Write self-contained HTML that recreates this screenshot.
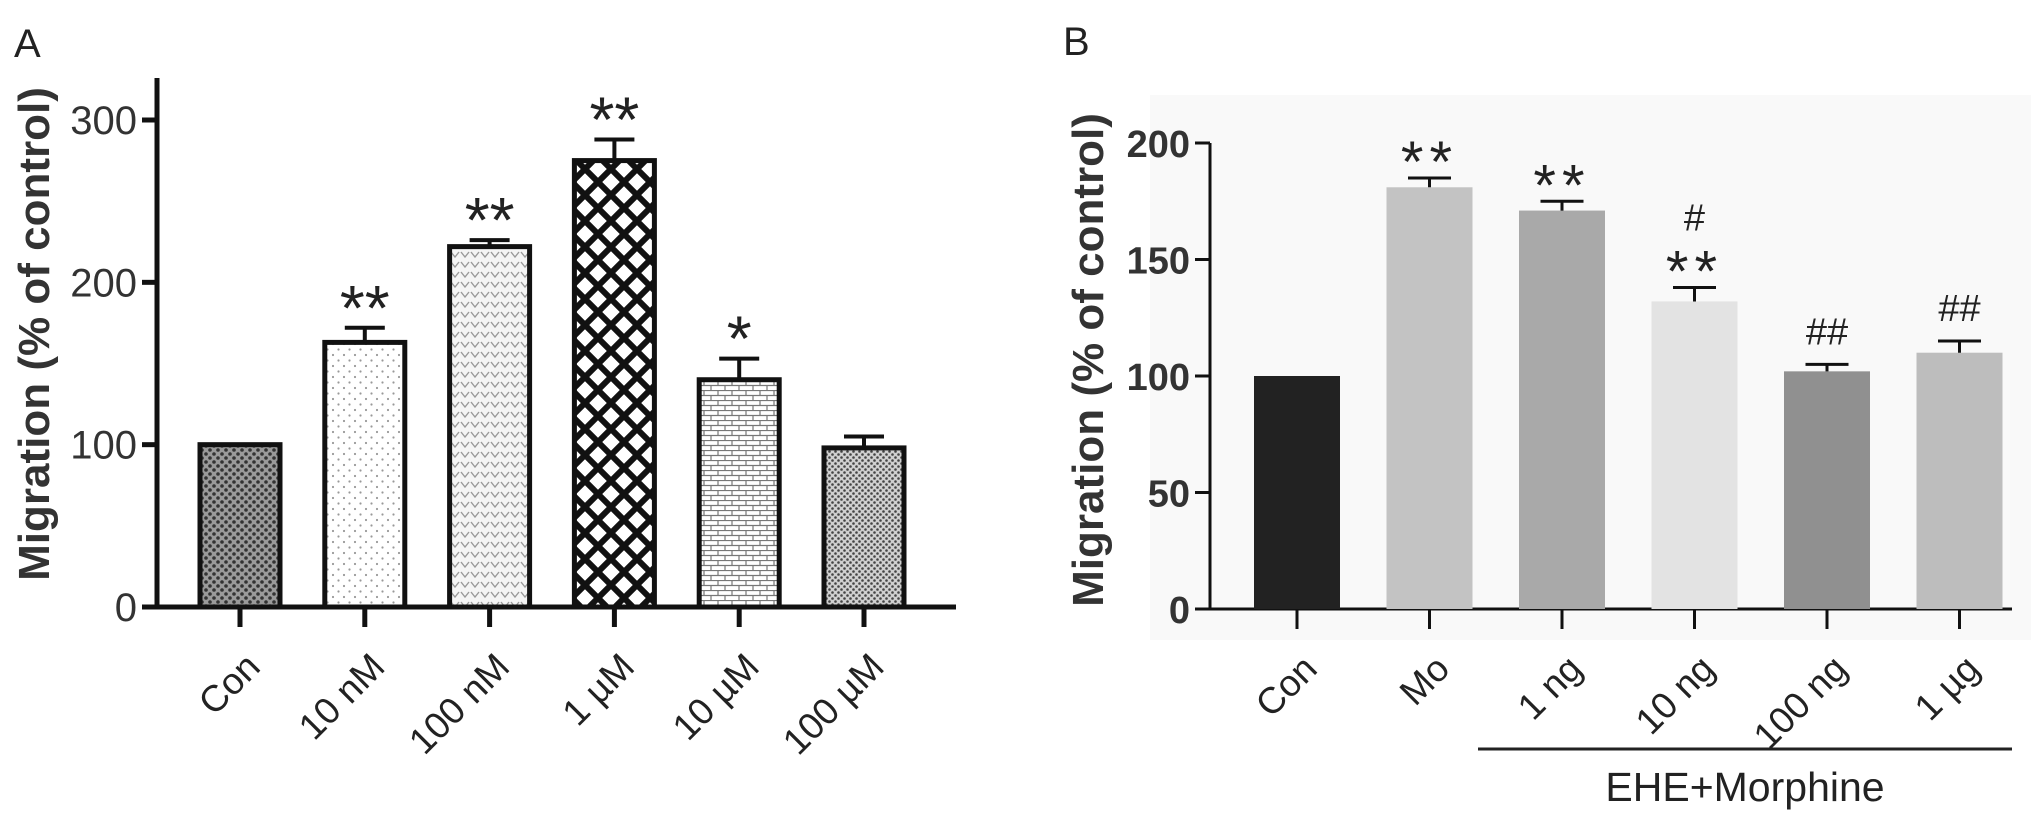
<!DOCTYPE html>
<html><head><meta charset="utf-8"><style>
html,body{margin:0;padding:0;background:#fff;}
svg{display:block;font-family:"Liberation Sans",Arial,sans-serif;}
</style></head><body>
<svg width="2031" height="820" viewBox="0 0 2031 820">
<defs>
<pattern id="pCon" width="8" height="8" patternUnits="userSpaceOnUse"><rect width="8" height="8" fill="#9a9a9a"/><circle cx="2" cy="2" r="1.8" fill="#333"/><circle cx="6" cy="6" r="1.8" fill="#333"/></pattern>
<pattern id="pDots" width="11" height="11" patternUnits="userSpaceOnUse"><rect width="11" height="11" fill="#fff"/><circle cx="3" cy="3" r="1.1" fill="#999"/><circle cx="8.5" cy="8.5" r="1.1" fill="#999"/></pattern>
<pattern id="pV" width="10" height="10" patternUnits="userSpaceOnUse"><rect width="10" height="10" fill="#f4f4f4"/><path d="M1,2 L5,7 L9,2" stroke="#999" stroke-width="1.4" fill="none"/></pattern>
<pattern id="pCross" width="26" height="26" patternUnits="userSpaceOnUse"><rect width="26" height="26" fill="#fff"/><path d="M0,0 L26,26 M26,0 L0,26" stroke="#111" stroke-width="6"/></pattern>
<pattern id="pBrick" width="14" height="10" patternUnits="userSpaceOnUse"><rect width="14" height="10" fill="#fff"/><path d="M0,0.5 H14 M0,5.5 H14 M4,0 V5 M11,5 V10" stroke="#777" stroke-width="1.2"/></pattern>
<pattern id="pFine" width="6" height="6" patternUnits="userSpaceOnUse"><rect width="6" height="6" fill="#d0d0d0"/><circle cx="1.5" cy="1.5" r="1.3" fill="#444"/><circle cx="4.5" cy="4.5" r="1.3" fill="#444"/></pattern>
</defs>
<rect x="1150" y="95" width="881" height="545" fill="#f9f9f9"/>
<text x="14" y="57" font-size="40" fill="#222">A</text>
<text x="1063" y="55" font-size="40" fill="#222">B</text>
<g id="chartA"></g>
<g id="chartB"></g>
<text transform="translate(49,334) rotate(-90)" text-anchor="middle" font-size="44" font-weight="bold" fill="#333">Migration (% of control)</text>
<text transform="translate(1103,360) rotate(-90)" text-anchor="middle" font-size="44" font-weight="bold" fill="#333">Migration (% of control)</text>
<line x1="1478" y1="749" x2="2012" y2="749" stroke="#222" stroke-width="3"/>
<text x="1745" y="801" text-anchor="middle" font-size="41" fill="#222">EHE+Morphine</text>
</svg>
<script>
const catsA = ["Con","10 nM","100 nM","1 \u00b5M","10  \u00b5M","100 \u00b5M"];
const valsA = [100,163,222,275,140,98];
const errA = [0,9,4,13,13,7];
const sigA = ["","**","**","**","*",""];
const ticksA = [0,100,200,300];
const catsB = ["Con","Mo","1 ng","10 ng","100 ng","1 \u00b5g"];
const valsB = [100,181,171,132,102,110];
const errB = [0,4,4,6,3,5];
const sigB = ["","**","**","**","##","##"];
const sigB2 = ["","","","#","",""];
const fillsA=["url(#pCon)","url(#pDots)","url(#pV)","url(#pCross)","url(#pBrick)","url(#pFine)"];
const fillsB=["#222","#c3c3c3","#a9a9a9","#e3e3e3","#909090","#bdbdbd"];
const ticksB=[0,50,100,150,200];
const NS="http://www.w3.org/2000/svg";
function mk(p,t,a){const e=document.createElementNS(NS,t);for(const k in a)e.setAttribute(k,a[k]);p.appendChild(e);return e;}
function draw(g,cfg){
  const y=v=>cfg.y0-(v-cfg.ymin)/(cfg.ymax-cfg.ymin)*(cfg.y0-cfg.y1);
  const x=i=>cfg.x0+i*cfg.step;
  const ax=mk(g,'line',{x1:cfg.ax,y1:cfg.top,x2:cfg.ax,y2:cfg.y0,stroke:'#111','stroke-width':cfg.aw});
  
  
  const xa=mk(g,'line',{x1:cfg.ax-12,y1:cfg.y0,x2:cfg.xend,y2:cfg.y0,stroke:'#111','stroke-width':cfg.aw});
  
  
  cfg.ticks.forEach(t=>{
    const l=mk(g,'line',{x1:cfg.ax-15,y1:y(t),x2:cfg.ax,y2:y(t),stroke:'#111','stroke-width':cfg.aw});
    
    
    const tx=mk(g,'text',{x:cfg.ax-20,y:y(t)+14,'text-anchor':'end','font-size':cfg.tf,fill:'#333','font-weight':cfg.tb});
    tx.textContent=t;
    
    
  });
  cfg.cats.forEach((c,i)=>{
    const cx=x(i),v=cfg.vals[i],top=y(v);
    const r=mk(g,'rect',{x:cx-cfg.bw/2,y:top,width:cfg.bw,height:cfg.y0-top,fill:cfg.fills[i],stroke:cfg.bs,'stroke-width':cfg.bsw});
    
    
    if(cfg.err[i]>0){
      const et=y(v+cfg.err[i]);
      const e=mk(g,'path',{d:`M${cx},${top} V${et} M${cx-cfg.bw/4},${et} H${cx+cfg.bw/4}`,stroke:'#111','stroke-width':cfg.ew,fill:'none'});
      
      
    }
    const tk=mk(g,'line',{x1:cx,y1:cfg.y0,x2:cx,y2:cfg.y0+20,stroke:'#111','stroke-width':cfg.aw});
    
    
    const lb=mk(g,'text',{transform:`translate(${cx+22},${cfg.y0+62}) rotate(-45)`,'text-anchor':'end','font-size':37,fill:'#222'});
    lb.textContent=c;
    
    
    const ebase=y(v+cfg.err[i]);
    const s0=cfg.sig[i];
    if(s0){
      const hash=s0[0]=='#';
      const s=mk(g,'text',{x:cx,y:hash?ebase-20:ebase+cfg.sigOff,'text-anchor':'middle','font-size':hash?38:cfg.sf,fill:'#222','letter-spacing':hash?0:cfg.ls});
      s.textContent=s0;
      
      
    }
    if(cfg.sig2 && cfg.sig2[i]){
      const s=mk(g,'text',{x:cx,y:ebase-57,'text-anchor':'middle','font-size':38,fill:'#222'});
      s.textContent=cfg.sig2[i];
      
      
    }
  });
}
draw(document.getElementById('chartA'),{cats:catsA,vals:valsA,err:errA,sig:sigA,fills:fillsA,ticks:ticksA,ymin:0,ymax:300,y0:607,y1:120,top:78,ax:157,xend:956,x0:240,step:124.8,bw:80,bs:'#111',bsw:5,aw:5,ew:4,tb:'normal',tf:40,sigOff:2,sf:64,ls:0});
draw(document.getElementById('chartB'),{cats:catsB,vals:valsB,err:errB,sig:sigB,sig2:sigB2,fills:fillsB,ticks:ticksB,ymin:0,ymax:200,y0:609,y1:143,top:143,ax:1210,xend:2012,x0:1297,step:132.5,bw:86,bs:'none',bsw:0,aw:3,ew:3,tb:'bold',tf:38,sigOff:4,sf:58,ls:6});
</script>
</body></html>
